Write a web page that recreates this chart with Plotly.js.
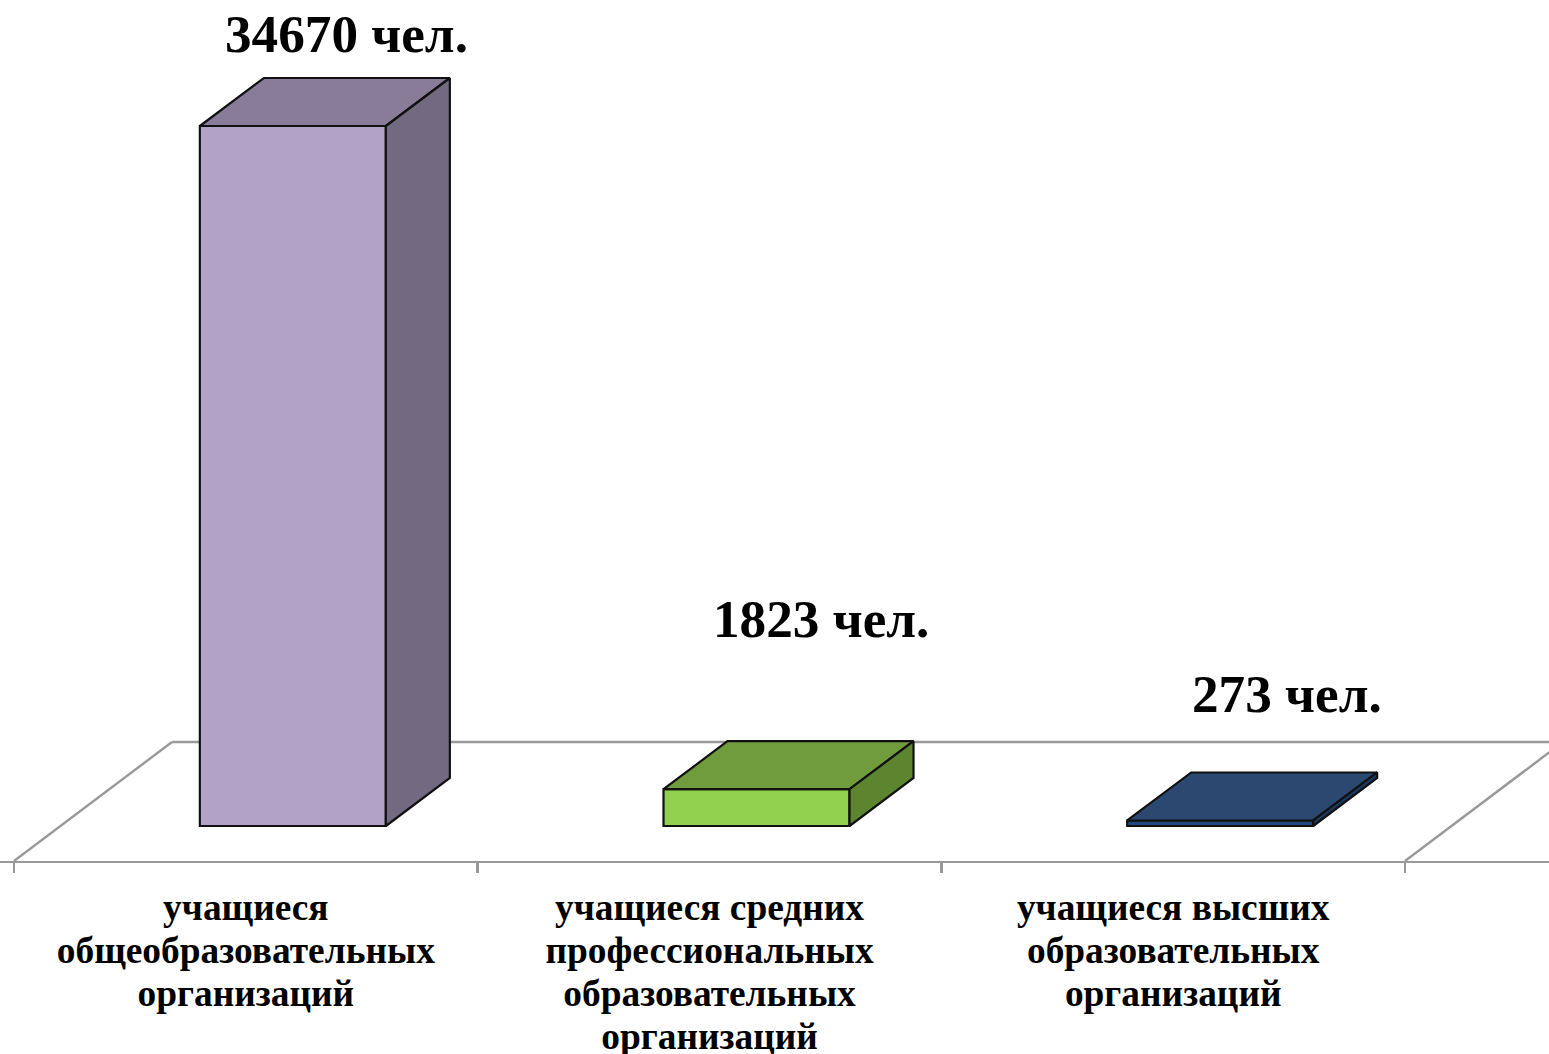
<!DOCTYPE html>
<html><head><meta charset="utf-8">
<script src="https://cdn.plot.ly/plotly-3.0.1.min.js"></script>
<style>html,body{margin:0;padding:0;background:#fff}#c{width:1549px;height:1054px}</style>
</head><body><div id="c"></div>
<script>
const categories = ['учащиеся<br>общеобразовательных<br>организаций','учащиеся средних<br>профессиональных<br>образовательных<br>организаций','учащиеся высших<br>образовательных<br>организаций'];
const values = [34670, 1823, 273];
const unit = ' чел.';
const frontColors = ['#b3a2c7','#92d050','#1f497d'];
const topColors = ['#887c99','#709c3d','#2a4870'];
const sideColors = ['#716a80','#5d8530','#1b3a63'];

const W=1549, H=1054, bottom=193;
const catPx=463.67, x0Px=14, basePx=826, pxPerVal=700/34670;
const xrange=[-0.5-x0Px/catPx, -0.5+(W-x0Px)/catPx];
const yrange=[-(861-basePx)/pxPerVal, basePx/pxPerVal];
const barW=186/catPx, barOffset=47/catPx;
const dx=64/catPx, dy=48/pxPerVal;
const labelDx=[54,64,67], labelDy=[92,170,126]; // px from the bar's front top centre

const floorColor='#999999', floorW=2.4, edge='#111111', edgeW=2.2;
const fdx=158/catPx, fdy=119/pxPerVal, fy=yrange[0];
const floorShapes=[
  {x0:-0.5,y0:fy,x1:-0.5+fdx,y1:fy+fdy},
  {x0:-0.5+fdx,y0:fy+fdy,x1:xrange[1]+1,y1:fy+fdy},
  {x0:2.5,y0:fy,x1:2.5+fdx,y1:fy+fdy}
].map(s=>Object.assign({type:'line',xref:'x',yref:'y',layer:'below',line:{color:floorColor,width:floorW}},s));

const traces=[];
const xs=values.map((v,i)=>i+barOffset);
traces.push({type:'bar',x:xs,y:values,width:barW,marker:{color:frontColors,line:{color:edge,width:edgeW}},hoverinfo:'skip',showlegend:false});
values.forEach((v,i)=>{
  const l=xs[i]-barW/2,r=xs[i]+barW/2;
  traces.push({type:'scatter',mode:'lines',fill:'toself',fillcolor:topColors[i],line:{color:edge,width:edgeW},
    x:[l,l+dx,r+dx,r,l],y:[v,v+dy,v+dy,v,v],hoverinfo:'skip',showlegend:false});
  traces.push({type:'scatter',mode:'lines',fill:'toself',fillcolor:sideColors[i],line:{color:edge,width:edgeW},
    x:[r,r+dx,r+dx,r,r],y:[0,dy,v+dy,v,0],hoverinfo:'skip',showlegend:false});
});
const annotations=values.map((v,i)=>({x:xs[i]+labelDx[i]/catPx,y:v+labelDy[i]/pxPerVal,xref:'x',yref:'y',
  text:'<b>'+v+unit+'</b>',showarrow:false,xanchor:'center',yanchor:'middle',
  font:{family:'Liberation Serif',size:53.2,color:'#000'}}));
Plotly.newPlot('c',traces,{
  width:W,height:H,margin:{l:0,r:0,t:0,b:bottom,pad:0},paper_bgcolor:'#fff',plot_bgcolor:'#fff',showlegend:false,
  shapes:floorShapes,
  xaxis:{range:xrange,tickmode:'array',tickvals:[0,1,2],ticktext:categories.map(c=>'<b>'+c.split('<br>').join('</b><br><b>')+'</b>'),
    ticks:'',showgrid:false,zeroline:false,showline:true,linecolor:floorColor,linewidth:floorW,tickangle:0,
    tickfont:{family:'Liberation Serif',size:37.4,color:'#000'},ticklabelstandoff:12,
    minor:{tickmode:'array',tickvals:[-0.5,0.5,1.5,2.5],ticks:'outside',ticklen:10,tickcolor:floorColor,tickwidth:floorW,showgrid:false}},
  yaxis:{range:yrange,visible:false,showgrid:false,zeroline:false},
  annotations
},{staticPlot:true}).then(gd=>{
  // reference line pitch is tighter than Plotly's fixed 1.3em
  gd.querySelectorAll('.xtick text').forEach(t=>{
    t.querySelectorAll('tspan.line').forEach((s,i)=>s.setAttribute('dy',(i*43)+'px'));
  });
});
</script></body></html>
